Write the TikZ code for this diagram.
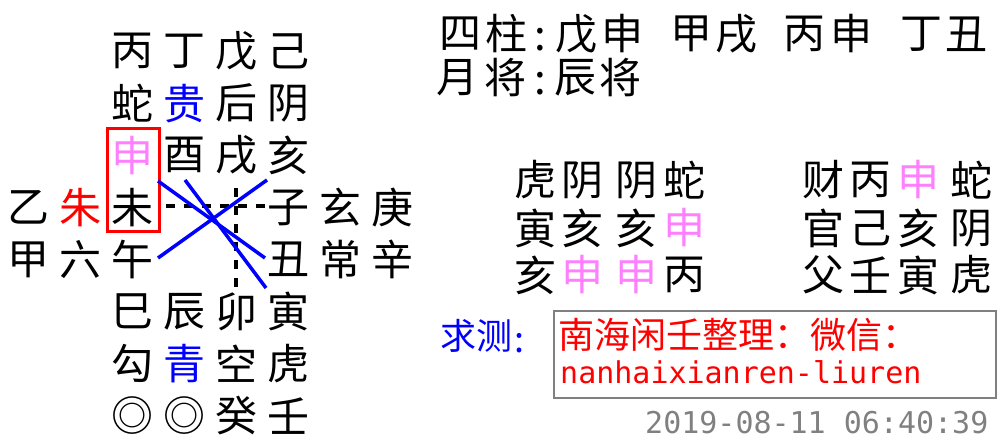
\documentclass[tikz,border=0pt]{standalone}
\usepackage{fontspec}
\setmainfont{Noto Sans CJK SC}
\newfontfamily\monofont{DejaVu Sans Mono}
\usepackage{tikz}
\usetikzlibrary{positioning}
\definecolor{pinkch}{HTML}{FF80FF}
\definecolor{bluech}{HTML}{0000FF}
\definecolor{redch}{HTML}{FF0000}
\definecolor{graybox}{HTML}{808080}

\begin{document}
\begin{tikzpicture}[x=1pt,y=-1pt,
 ch/.style={font=\fontsize{42}{46}\selectfont,inner sep=0pt},
 note/.style={font=\fontsize{36}{40}\selectfont,inner sep=0pt},
 latin/.style={font=\monofont\fontsize{30}{34}\selectfont,inner sep=0pt},
 crossline/.style={draw=bluech,line width=3.5pt},
 axisline/.style={draw=black,line width=3.5pt,dash pattern=on 9pt off 9pt},
 markbox/.style={draw=redch,line width=3pt},
 msgbox/.style={draw=graybox,line width=2.5pt,minimum width=442pt,minimum height=87pt,inner sep=0pt}
]
\useasboundingbox (0,0) rectangle (1002,444);

% chart
\foreach \ch/\i/\j/\c in {丙/2/0/black,丁/3/0/black,戊/4/0/black,己/5/0/black,
  蛇/2/1/black,贵/3/1/bluech,后/4/1/black,阴/5/1/black,
  申/2/2/pinkch,酉/3/2/black,戌/4/2/black,亥/5/2/black,
  乙/0/3/black,朱/1/3/redch,未/2/3/black,子/5/3/black,玄/6/3/black,庚/7/3/black,
  甲/0/4/black,六/1/4/black,午/2/4/black,丑/5/4/black,常/6/4/black,辛/7/4/black,
  巳/2/5/black,辰/3/5/black,卯/4/5/black,寅/5/5/black,
  勾/2/6/black,青/3/6/bluech,空/4/6/black,虎/5/6/black,
  ◎/2/7/black,◎/3/7/black,癸/4/7/black,壬/5/7/black}
  \node[ch,text=\c] (g\i\j) at ({28+52*\i},{51+52.14*\j}) {\ch};

\draw[markbox] (107,128) rectangle (159,231);

\coordinate (h1) at (166,206);
\coordinate (h2) at (265,206);
\coordinate (v1) at (236,188);
\coordinate (v2) at (236,287);
\draw[axisline] (h1) -- (h2);
\draw[axisline] (v1) -- (v2);

\coordinate (a1) at (158,181);
\coordinate (a2) at (265,258);
\coordinate (b1) at (185,180);
\coordinate (b2) at (266,288);
\coordinate (c1) at (267,180);
\coordinate (c2) at (158,258);
\draw[crossline] (a1) -- (a2);
\draw[crossline] (b1) -- (b2);
\draw[crossline] (c1) -- (c2);

% header
\foreach \ch/\x [count=\k] in {四/460,柱/506,戊/576,申/622,甲/691,戌/736,丙/804,申/851,丁/921,丑/966}
  \node[ch] (p\k) at (\x,34) {\ch};
\node[ch] (pc) at (540,40) {:};
\foreach \ch/\x [count=\k] in {月/457,将/505,辰/575,将/620}
  \node[ch] (m\k) at (\x,78) {\ch};
\node[ch] (mc) at (540,84) {:};

% lessons
\foreach \ch/\x/\y/\c [count=\k] in {虎/535/180/black,阴/582/180/black,阴/636/180/black,蛇/684/180/black,
  寅/535/228/black,亥/582/228/black,亥/636/228/black,申/684/228/pinkch,
  亥/535/275/black,申/582/275/pinkch,申/636/275/pinkch,丙/684/275/black}
  \node[ch,text=\c] (k\k) at (\x,\y) {\ch};

% transmissions
\foreach \ch/\x/\y/\c [count=\k] in {财/823/180/black,丙/870/180/black,申/918/180/pinkch,蛇/971/180/black,
  官/823/228/black,己/870/228/black,亥/918/228/black,阴/971/228/black,
  父/823/275/black,壬/870/275/black,寅/918/275/black,虎/971/275/black}
  \node[ch,text=\c] (t\k) at (\x,\y) {\ch};

% question
\node[note,text=bluech,anchor=west] (q) at (440,336) {求测};
\node[note,text=bluech] (qc) at (519,343) {:};
\node[msgbox] (msg) at (775,354.5) {};
\node[note,text=redch,anchor=west] (msg1) at (558,335) {南海闲壬整理：微信：};
\node[latin,text=redch,anchor=base west] (msg2) at (560,383) {nanhaixianren-liuren};
\node[latin,text=graybox,anchor=base west] (stamp) at (645,433) {2019-08-11 06:40:39};
\end{tikzpicture}
\end{document}
